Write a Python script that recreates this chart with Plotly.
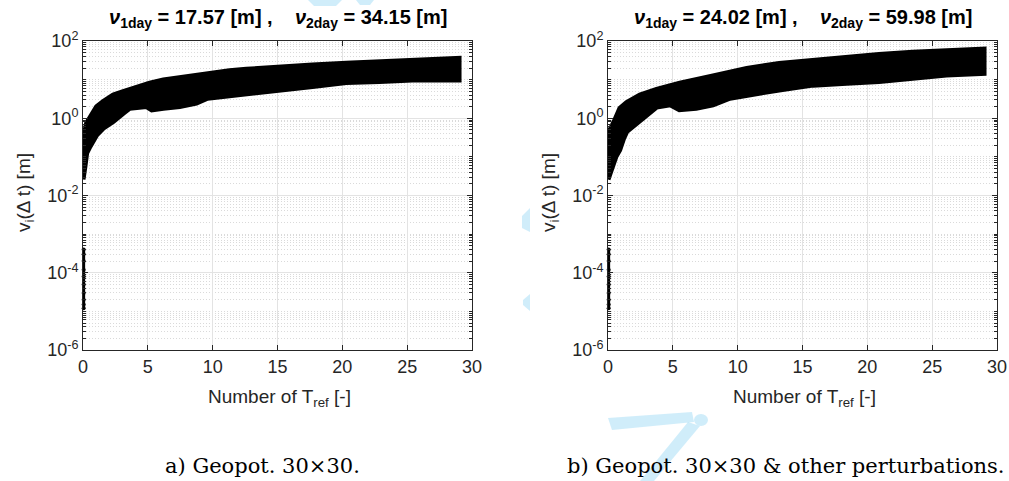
import plotly.graph_objects as go

W, H = 1009, 481

# ---------------- data ----------------
# panel a) Geopot. 30x30 : upper and lower edges of the point cloud
t_up_a = [0.0, 0.03, 0.28, 0.54, 1.05, 1.56, 2.33, 3.1, 3.6, 4.38, 5.15, 6.2, 7.46, 8.74,
          10.0, 11.3, 12.6, 15.15, 17.7, 20.3, 22.85, 25.4, 27.9, 29.0]
v_up_a = [0.026, 0.28, 0.75, 1.0, 2.0, 2.7, 4.0, 4.9, 5.6, 6.6, 8.05, 9.8, 11.3, 13.2,
          15.5, 17.1, 18.5, 21.7, 24.0, 26.5, 29.3, 31.0, 35.0, 35.6]
t_lo_a = [0.0, 0.15, 0.28, 0.54, 1.05, 1.56, 2.33, 3.1, 3.6, 4.9, 5.3, 6.2, 7.46, 8.74,
          9.6, 10.0, 11.3, 12.6, 15.15, 17.7, 20.3, 22.85, 25.4, 29.0]
v_lo_a = [0.026, 0.057, 0.125, 0.186, 0.37, 0.55, 0.82, 1.35, 1.82, 2.0, 1.65, 1.82, 2.0, 2.45,
          3.3, 3.6, 4.0, 4.45, 5.4, 6.6, 8.4, 8.9, 9.8, 9.8]

# panel b) Geopot. 30x30 & other perturbations
t_up_b = [0.0, 0.05, 0.15, 0.54, 0.92, 1.44, 2.46, 3.75, 5.54, 8.1, 10.7, 13.2, 15.8, 18.4,
          20.9, 23.5, 26.1, 29.0]
v_up_b = [0.026, 0.2, 0.5, 0.91, 1.82, 2.55, 4.0, 5.6, 8.1, 12.5, 19.5, 26.0, 32.0, 39.0,
          45.0, 51.0, 56.0, 62.0]
t_lo_b = [0.0, 0.3, 0.6, 0.9, 1.2, 1.44, 1.95, 2.7, 3.75, 4.8, 5.5, 6.8, 8.1, 9.4, 10.7,
          13.2, 15.8, 18.4, 20.9, 23.5, 26.1, 29.0]
v_lo_b = [0.026, 0.05, 0.1, 0.15, 0.3, 0.45, 0.62, 1.0, 1.94, 2.24, 1.66, 1.82, 2.24, 3.3, 4.0,
          5.4, 7.2, 8.0, 8.9, 10.8, 13.2, 14.6]

# isolated very small values at the first sample
t_spike = [0.05, 0.05, 0.05, 0.05, 0.05, 0.05, 0.05, 0.05, 0.05, 0.05]
v_spike = [4e-4, 3e-4, 2e-4, 1.2e-4, 8e-5, 5e-5, 3e-5, 2e-5, 1.5e-5, 1.2e-5]

titles = ["<b><i>ν</i><sub>1day</sub> = 17.57 [m] ,\u00a0\u00a0\u00a0\u00a0<i>ν</i><sub>2day</sub> = 34.15 [m]</b>",
          "<b><i>ν</i><sub>1day</sub> = 24.02 [m] ,\u00a0\u00a0\u00a0\u00a0<i>ν</i><sub>2day</sub> = 59.98 [m]</b>"]
captions = ["a) Geopot. 30×30.", "b) Geopot. 30×30 &amp; other perturbations."]
x_ticks = [0, 5, 10, 15, 20, 25, 30]
y_ticks = [1e-6, 1e-4, 1e-2, 1e0, 1e2]
y_ticktext = ["10<sup>-6</sup>", "10<sup>-4</sup>", "10<sup>-2</sup>", "10<sup>0</sup>", "10<sup>2</sup>"]

# ---------------- layout geometry ----------------
def px(x):
    return x / W

def py(y):
    return 1 - y / H

plot_top, plot_bot = 41, 350
panels = [(83, 472), (608, 997)]

minor_vals = [k * 10.0 ** e for e in range(-6, 2) for k in range(1, 10)
              if not (k == 1 and e % 2 == 0)]

AX = "#262626"
FONT = "Liberation Sans, Arial, sans-serif"

fig = go.Figure()

data = [(t_up_a, v_up_a, t_lo_a, v_lo_a), (t_up_b, v_up_b, t_lo_b, v_lo_b)]
for i, (tu, vu, tl, vl) in enumerate(data):
    xa = "x" if i == 0 else "x2"
    ya = "y" if i == 0 else "y2"
    fig.add_trace(go.Scatter(
        x=tu + tl[::-1], y=vu + vl[::-1], mode="lines", fill="toself",
        fillcolor="black", line=dict(color="black", width=5),
        xaxis=xa, yaxis=ya, showlegend=False, hoverinfo="skip"))
    fig.add_trace(go.Scatter(
        x=t_spike, y=v_spike, mode="lines+markers",
        line=dict(color="black", width=3), marker=dict(color="black", size=4),
        cliponaxis=False, xaxis=xa, yaxis=ya, showlegend=False, hoverinfo="skip"))

layout = dict(
    width=W, height=H, margin=dict(l=0, r=0, t=0, b=0, autoexpand=False),
    paper_bgcolor="white", plot_bgcolor="white", showlegend=False,
    font=dict(family=FONT, color=AX, size=18),
)

for i, (x0, x1) in enumerate(panels):
    sfx = "" if i == 0 else "2"
    layout["xaxis" + sfx] = dict(
        domain=[px(x0), px(x1)], range=[0, 30], anchor="y" + sfx, automargin=False,
        tickmode="array", tickvals=x_ticks, ticks="inside", ticklen=5, tickcolor=AX,
        showline=True, linecolor=AX, linewidth=1, mirror="ticks",
        showgrid=True, gridcolor="#e3e3e3", gridwidth=1, zeroline=False,
        tickfont=dict(size=18, color=AX, family=FONT))
    layout["yaxis" + sfx] = dict(
        domain=[py(plot_bot), py(plot_top)], type="log", range=[-6, 2], anchor="x" + sfx,
        automargin=False,
        tickmode="array", tickvals=y_ticks, ticktext=y_ticktext,
        ticks="inside", ticklen=5, tickcolor=AX,
        showline=True, linecolor=AX, linewidth=1, mirror="ticks",
        showgrid=True, gridcolor="#e3e3e3", gridwidth=1, zeroline=False,
        tickfont=dict(size=18, color=AX, family=FONT),
        minor=dict(tickmode="array", tickvals=minor_vals, ticks="inside", ticklen=3,
                   tickcolor=AX, showgrid=True, gridcolor="#dadada", griddash="1px,2px",
                   gridwidth=1))

ann = []
for i, (x0, x1) in enumerate(panels):
    cx = (x0 + x1) / 2
    ann.append(dict(text=titles[i], x=px(cx), y=py(18), xref="paper", yref="paper",
                    showarrow=False, xanchor="center", yanchor="middle",
                    font=dict(size=20, color="black", family=FONT)))
    ann.append(dict(text="Number of T<sub>ref</sub> [-]", x=px(cx + 2), y=py(398), xref="paper",
                    yref="paper", showarrow=False, xanchor="center", yanchor="middle",
                    font=dict(size=19, color=AX, family=FONT)))
    ann.append(dict(text="v<sub>i</sub>(Δ t) [m]", x=px(x0 - 58), y=py(193), xref="paper",
                    yref="paper", showarrow=False, xanchor="center", yanchor="middle",
                    textangle=-90, font=dict(size=19, color=AX, family=FONT)))
ann.append(dict(text=captions[0], x=px(163), y=py(466), xref="paper", yref="paper",
                showarrow=False, xanchor="left", yanchor="middle",
                font=dict(size=21, color="black", family="DejaVu Serif, serif")))
ann.append(dict(text=captions[1], x=px(565), y=py(466), xref="paper", yref="paper",
                showarrow=False, xanchor="left", yanchor="middle",
                font=dict(size=21, color="black", family="DejaVu Serif, serif")))
layout["annotations"] = ann

# faint watermark fragments visible around the panels
WM = "rgba(150,215,245,0.45)"
def path(pts):
    s = "M " + " L ".join(f"{px(a):.5f},{py(b):.5f}" for a, b in pts) + " Z"
    return s

shapes = [
    dict(type="path", path=path([(608, 418), (692, 412), (694, 422), (612, 430)])),
    dict(type="path", path=path([(688, 422), (700, 426), (654, 481), (640, 481)])),
    dict(type="circle", x0=px(694), x1=px(708), y0=py(426), y1=py(414)),
    dict(type="path", path=path([(530, 208), (530, 232), (522, 228), (522, 216)])),
    dict(type="path", path=path([(530, 294), (530, 311), (523, 305), (523, 300)])),
    dict(type="path", path=path([(308, 0), (342, 0), (336, 6), (314, 6)])),
    dict(type="path", path=path([(356, 0), (374, 0), (370, 5), (360, 5)])),
]
for s in shapes:
    s.update(xref="paper", yref="paper", fillcolor=WM, line=dict(width=0), layer="below")
layout["shapes"] = shapes

fig.update_layout(**layout)
fig.write_html("out.html", config={"displayModeBar": False, "staticPlot": True},
               post_script="document.body.style.margin='0px';document.body.style.overflow='hidden';")
